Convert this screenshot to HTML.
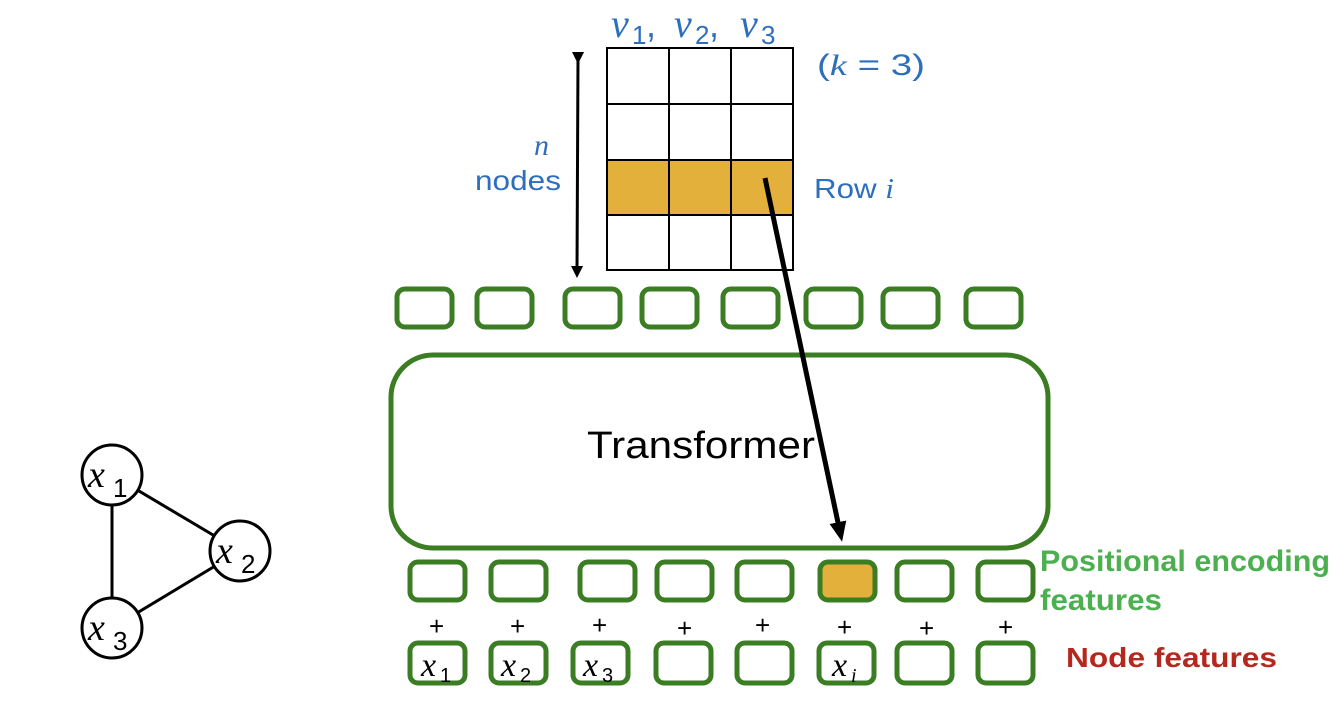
<!DOCTYPE html>
<html><head><meta charset="utf-8"><style>
html,body{margin:0;padding:0;background:#fff;}
svg text{font-family:"Liberation Sans",sans-serif;}
.m{font-family:"Liberation Serif",serif;font-style:italic;}
</style></head><body>
<svg width="1336" height="718" viewBox="0 0 1336 718" xmlns="http://www.w3.org/2000/svg">
<defs><marker id="ah" markerWidth="4" markerHeight="4" refX="2" refY="2" orient="auto" markerUnits="strokeWidth"><path d="M0,0.3 L4,2 L0,3.7 z" fill="#000"/></marker>
<marker id="ah2" markerWidth="4" markerHeight="4" refX="2" refY="2" orient="auto" markerUnits="strokeWidth"><path d="M0,0 L4,2 L0,4 z" fill="#000"/></marker></defs>
<line x1="112" y1="475" x2="240" y2="551" stroke="#000" stroke-width="3"/>
<line x1="112" y1="475" x2="112" y2="628" stroke="#000" stroke-width="3"/>
<line x1="240" y1="551" x2="112" y2="628" stroke="#000" stroke-width="3"/>
<g fill="#fff" stroke="#000" stroke-width="3">
<circle cx="112" cy="475" r="30"/><circle cx="240" cy="551" r="30"/><circle cx="112" cy="628" r="30"/></g>
<g fill="#000">
<text class="m" x="88" y="487" font-size="38">x</text><text x="113" y="497" font-size="26">1</text>
<text class="m" x="216" y="563" font-size="38">x</text><text x="241" y="573" font-size="26">2</text>
<text class="m" x="88" y="640" font-size="38">x</text><text x="113" y="650" font-size="26">3</text>
</g>
<rect x="607" y="160" width="186" height="55" fill="#e3b03c"/>
<g stroke="#000" stroke-width="2" fill="none">
<rect x="607" y="48" width="186" height="222"/>
<line x1="669" y1="48" x2="669" y2="270"/><line x1="731" y1="48" x2="731" y2="270"/>
<line x1="607" y1="104" x2="793" y2="104"/><line x1="607" y1="160" x2="793" y2="160"/><line x1="607" y1="215" x2="793" y2="215"/>
</g>
<line x1="578" y1="58" x2="577" y2="272" stroke="#000" stroke-width="3" marker-start="url(#ah2)" marker-end="url(#ah2)"/>
<g fill="#2e6fbd">
<text class="m" x="611" y="37" font-size="40">v</text><text x="632" y="44" font-size="26">1</text><text x="646" y="37" font-size="36">,</text>
<text class="m" x="674" y="37" font-size="40">v</text><text x="695" y="44" font-size="26">2</text><text x="709" y="37" font-size="36">,</text>
<text class="m" x="740" y="37" font-size="40">v</text><text x="761" y="44" font-size="26">3</text>
<text x="817" y="75" font-size="30" textLength="108" lengthAdjust="spacingAndGlyphs">(<tspan class="m">k</tspan> = 3)</text>
<text class="m" x="534" y="155" font-size="30">n</text>
<text x="475" y="190" font-size="28" textLength="86" lengthAdjust="spacingAndGlyphs">nodes</text>
<text x="814" y="198" font-size="28" textLength="80" lengthAdjust="spacingAndGlyphs">Row <tspan class="m">i</tspan></text>
</g>
<g fill="none" stroke="#3b7d23" stroke-width="5">
<rect x="397" y="289" width="55" height="38" rx="8"/><rect x="477" y="289" width="55" height="38" rx="8"/>
<rect x="565" y="289" width="55" height="38" rx="8"/><rect x="642" y="289" width="55" height="38" rx="8"/>
<rect x="723" y="289" width="55" height="38" rx="8"/><rect x="806" y="289" width="55" height="38" rx="8"/>
<rect x="883" y="289" width="55" height="38" rx="8"/><rect x="966" y="289" width="55" height="38" rx="8"/>
<rect x="391" y="355" width="657" height="193" rx="42"/>
</g>
<text x="587" y="458" font-size="38" fill="#000" textLength="228" lengthAdjust="spacingAndGlyphs">Transformer</text>
<rect x="822" y="563" width="53" height="36" rx="7" fill="#e3b03c"/>
<g fill="none" stroke="#3b7d23" stroke-width="5">
<rect x="410" y="562" width="55" height="38" rx="8"/><rect x="491" y="562" width="55" height="38" rx="8"/>
<rect x="580" y="562" width="55" height="38" rx="8"/><rect x="657" y="562" width="55" height="38" rx="8"/>
<rect x="737" y="562" width="55" height="38" rx="8"/><rect x="820" y="562" width="55" height="38" rx="8"/>
<rect x="897" y="562" width="55" height="38" rx="8"/><rect x="978" y="562" width="55" height="38" rx="8"/>
<rect x="410" y="643" width="55" height="40" rx="8"/><rect x="491" y="643" width="55" height="40" rx="8"/>
<rect x="573" y="643" width="55" height="40" rx="8"/><rect x="656" y="643" width="55" height="40" rx="8"/>
<rect x="737" y="643" width="55" height="40" rx="8"/><rect x="819" y="643" width="55" height="40" rx="8"/>
<rect x="897" y="643" width="55" height="40" rx="8"/><rect x="978" y="643" width="55" height="40" rx="8"/>
</g>
<g font-size="26" fill="#000">
<text x="429" y="635">+</text><text x="510" y="635">+</text><text x="592" y="634">+</text><text x="677" y="637">+</text>
<text x="755" y="634">+</text><text x="837" y="636">+</text><text x="919" y="637">+</text><text x="998" y="636">+</text>
</g>
<g fill="#000">
<text class="m" x="421" y="676" font-size="34">x</text><text x="440" y="682" font-size="20">1</text>
<text class="m" x="501" y="676" font-size="34">x</text><text x="520" y="682" font-size="20">2</text>
<text class="m" x="583" y="676" font-size="34">x</text><text x="602" y="682" font-size="20">3</text>
<text class="m" x="832" y="676" font-size="34">x</text><text class="m" x="851" y="682" font-size="20">i</text>
</g>
<text x="1040" y="571" font-size="30" fill="#4caf50" font-weight="bold" textLength="290" lengthAdjust="spacingAndGlyphs">Positional encoding</text>
<text x="1040" y="610" font-size="30" fill="#4caf50" font-weight="bold" textLength="122" lengthAdjust="spacingAndGlyphs">features</text>
<text x="1066" y="667" font-size="28" fill="#b5281e" font-weight="bold" textLength="211" lengthAdjust="spacingAndGlyphs">Node features</text>
<line x1="765" y1="178" x2="840" y2="532" stroke="#000" stroke-width="5" marker-end="url(#ah)"/>
</svg>
</body></html>
